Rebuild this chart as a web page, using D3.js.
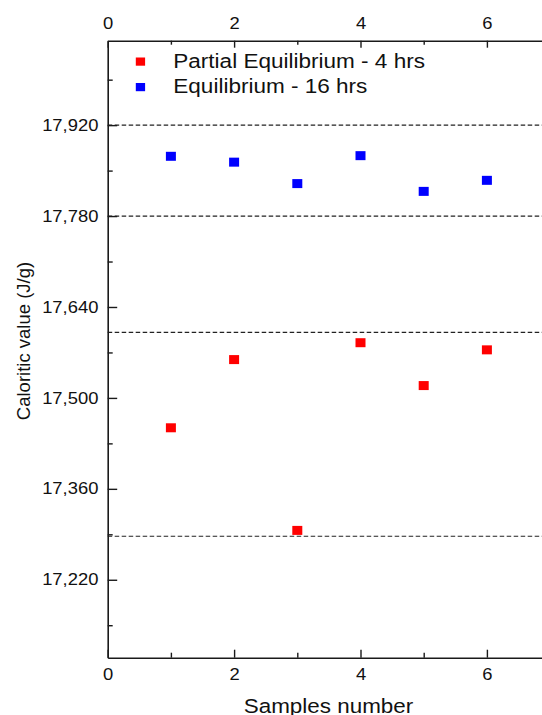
<!DOCTYPE html>
<html>
<head>
<meta charset="utf-8">
<script src="https://cdn.jsdelivr.net/npm/d3@7"></script>
<style>
  body { margin: 0; background: #fff; }
  svg { display: block; font-family: "Liberation Sans", Arial, sans-serif; }
</style>
</head>
<body>
<div id="chart"></div>
<script>
// samples 1..6, calorific value in J/g
var samples = [1, 2, 3, 4, 5, 6];
var partialValues = [17454, 17559, 17296, 17585, 17519, 17574];
var equilValues = [17872, 17863, 17830, 17873, 17818, 17835];
var seriesNames = ["Partial Equilibrium - 4 hrs", "Equilibrium - 16 hrs"];
var seriesColors = ["#ff0000", "#0000ff"];

// dashed limit lines
var limitValues = [17920, 17780, 17601, 17287];

var xMajorTicks = [0, 2, 4, 6];
var xMinorTicks = [1, 3, 5];
var yMajorTicks = [17220, 17360, 17500, 17640, 17780, 17920];
var yMinorTicks = [17150, 17290, 17430, 17570, 17710, 17850, 17990];

var width = 542, height = 715;
var plotLeft = 107.7, plotTop = 40.7, plotBottom = 657.7;
var stretch = 1.15; // the source text is a bit wide

var svg = d3.select("#chart")
    .append("svg")
    .attr("width", width)
    .attr("height", height);

var x = d3.scaleLinear().domain([0, 7]).range([plotLeft, plotLeft + 7 * 63.2]);
var y = d3.scaleLinear().domain([17100, 18050]).range([plotBottom, plotTop]);

function widen(sel){
    sel.each(function(){
        var t = d3.select(this);
        var tx = +t.attr("x") || 0;
        var ty = +t.attr("y") || 0;
        t.attr("x", 0).attr("y", 0)
            .attr("transform", "translate(" + tx + "," + ty + ") scale(" + stretch + ",1)");
    });
}

function styleAxis(g){
    g.select(".domain").attr("stroke", "#1a1a1a").attr("stroke-width", 1.6);
    g.selectAll(".tick line").attr("stroke", "#1a1a1a").attr("stroke-width", 1.4);
    g.selectAll("text").attr("fill", "#111").style("font-size", "16px");
}

// dashed lines first so axes sit on top
svg.append("g").selectAll("line")
    .data(limitValues)
    .enter().append("line")
    .attr("x1", plotLeft)
    .attr("x2", width)
    .attr("y1", function(d){ return y(d); })
    .attr("y2", function(d){ return y(d); })
    .attr("stroke", "#222")
    .attr("stroke-width", 1.2)
    .attr("stroke-dasharray", "4.5,2.5");

// bottom axis
var gBottom = svg.append("g").attr("transform", "translate(0," + plotBottom + ")");
gBottom.call(d3.axisBottom(x).tickValues(xMajorTicks).tickFormat(d3.format("d"))
    .tickSizeInner(-8).tickSizeOuter(0).tickPadding(11));
gBottom.append("g").call(d3.axisBottom(x).tickValues(xMinorTicks).tickFormat("")
    .tickSizeInner(-5).tickSizeOuter(0))
    .select(".domain").remove();
styleAxis(gBottom);
widen(gBottom.selectAll("text"));

// top axis
var gTop = svg.append("g").attr("transform", "translate(0," + plotTop + ")");
gTop.call(d3.axisTop(x).tickValues(xMajorTicks).tickFormat(d3.format("d"))
    .tickSizeInner(-7).tickSizeOuter(0).tickPadding(11.4));
gTop.append("g").call(d3.axisTop(x).tickValues(xMinorTicks).tickFormat("")
    .tickSizeInner(-4).tickSizeOuter(0))
    .select(".domain").remove();
styleAxis(gTop);
widen(gTop.selectAll("text"));

// left axis
var gLeft = svg.append("g").attr("transform", "translate(" + plotLeft + ",0)");
gLeft.call(d3.axisLeft(y).tickValues(yMajorTicks).tickFormat(d3.format(","))
    .tickSizeInner(-9.5).tickSizeOuter(0).tickPadding(9.3));
gLeft.append("g").call(d3.axisLeft(y).tickValues(yMinorTicks).tickFormat("")
    .tickSizeInner(-5).tickSizeOuter(0))
    .select(".domain").remove();
styleAxis(gLeft);
widen(gLeft.selectAll("text"));

// points
var allSeries = [partialValues, equilValues];
allSeries.forEach(function(vals, i){
    svg.append("g").selectAll("rect")
        .data(vals)
        .enter().append("rect")
        .attr("x", function(d, j){ return x(samples[j]) - 5; })
        .attr("y", function(d){ return y(d) - 4.5; })
        .attr("width", 10)
        .attr("height", 9)
        .attr("fill", seriesColors[i]);
});

// legend
var legend = svg.append("g");
seriesNames.forEach(function(name, i){
    legend.append("rect")
        .attr("x", 135.8)
        .attr("y", 57.5 + i * 25.5)
        .attr("width", 9.3)
        .attr("height", 8.2)
        .attr("fill", seriesColors[i]);
    legend.append("text")
        .attr("x", 173.3)
        .attr("y", 68.3 + i * 25)
        .attr("fill", "#111")
        .style("font-size", "19.6px")
        .text(name);
});
widen(legend.selectAll("text"));

// axis titles
svg.append("text")
    .attr("x", 328.5)
    .attr("y", 712.5)
    .attr("text-anchor", "middle")
    .attr("fill", "#111")
    .style("font-size", "19.5px")
    .text("Samples number")
    .call(widen);

svg.append("text")
    .attr("transform", "translate(30,341) rotate(-90)")
    .attr("text-anchor", "middle")
    .attr("fill", "#111")
    .style("font-size", "18.5px")
    .text("Caloritic value (J/g)");
</script>
</body>
</html>
